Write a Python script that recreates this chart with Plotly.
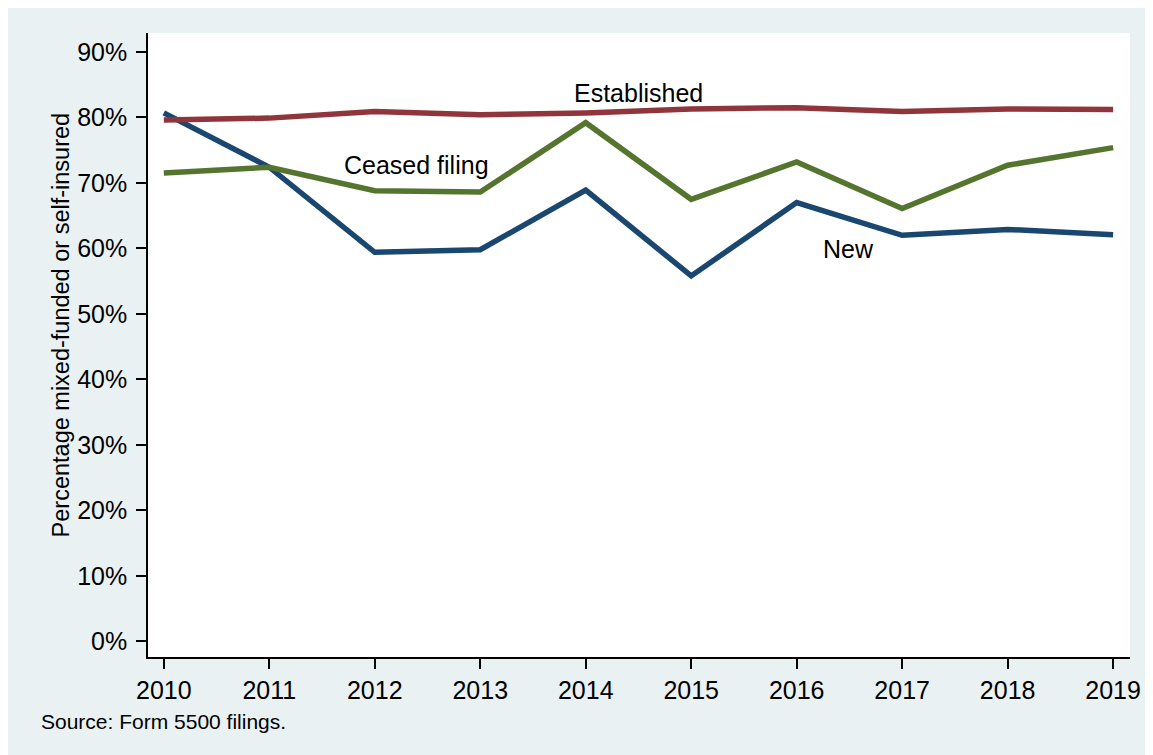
import plotly.graph_objects as go

years = [2010, 2011, 2012, 2013, 2014, 2015, 2016, 2017, 2018, 2019]
new = [80.7, 72.4, 59.4, 59.8, 68.9, 55.8, 67.0, 62.0, 62.9, 62.1]
established = [79.6, 79.9, 80.9, 80.4, 80.7, 81.3, 81.5, 80.9, 81.3, 81.2]
ceased = [71.5, 72.4, 68.8, 68.6, 79.2, 67.5, 73.2, 66.1, 72.7, 75.4]

y_ticks = [0, 10, 20, 30, 40, 50, 60, 70, 80, 90]
grid_ticks = [10, 20, 30, 40, 50, 60, 70, 80]
y_title = "Percentage mixed-funded or self-insured"
source = "Source: Form 5500 filings."

labels = [
    ("Established", 2014.5, 83.7),
    ("Ceased filing", 2012.4, 72.7),
    ("New", 2016.49, 59.9),
]

NAVY = "#1a476f"
MAROON = "#90353b"
GREEN = "#55752f"
BG = "#eaf1f3"
FONT = "Liberation Sans, Arial, sans-serif"

fig = go.Figure()
for name, vals, col in [("New", new, NAVY), ("Established", established, MAROON),
                        ("Ceased filing", ceased, GREEN)]:
    fig.add_trace(go.Scatter(x=years, y=vals, mode="lines", name=name,
                             line=dict(color=col, width=5.5), yaxis="y"))

yr = [-2.4, 92.9]
fig.update_layout(
    width=1145, height=747,
    margin=dict(l=140, r=19, t=25, b=98),
    paper_bgcolor=BG, plot_bgcolor="white",
    showlegend=False,
    font=dict(family=FONT, color="black", size=25),
    xaxis=dict(range=[2009.85, 2019.16], tickvals=years,
               ticktext=[str(y) for y in years],
               showgrid=False, zeroline=False, showline=True, linecolor="black",
               linewidth=1.5, ticks="outside", ticklen=10, tickwidth=1.5,
               tickcolor="black", tickfont=dict(size=25)),
    yaxis=dict(range=yr, tickvals=y_ticks, ticktext=[f"{v}%" for v in y_ticks],
               showgrid=False, zeroline=False, showline=True, linecolor="black",
               linewidth=1.5, ticks="outside", ticklen=10, tickwidth=1.5,
               tickcolor="black", tickfont=dict(size=25), ticklabelstandoff=4),
    yaxis2=dict(range=yr, overlaying="y", tickvals=grid_ticks, showgrid=True,
                gridcolor="#eaeaea", gridwidth=1.5, showticklabels=False,
                ticks="", zeroline=False, showline=False),
)

for text, x, y in labels:
    fig.add_annotation(x=x, y=y, xref="x", yref="y", text=text, showarrow=False,
                       font=dict(size=25, family=FONT), xanchor="center", yanchor="middle")

fig.add_annotation(x=-0.0882, y=0.532, xref="paper", yref="paper", text=y_title,
                   textangle=-90, showarrow=False, font=dict(size=23.5, family=FONT),
                   xanchor="center", yanchor="middle")
fig.add_annotation(x=-0.1115, y=-0.1026, xref="paper", yref="paper", text=source,
                   showarrow=False, font=dict(size=21, family=FONT),
                   xanchor="left", yanchor="middle")

fig.write_html("out.html")
